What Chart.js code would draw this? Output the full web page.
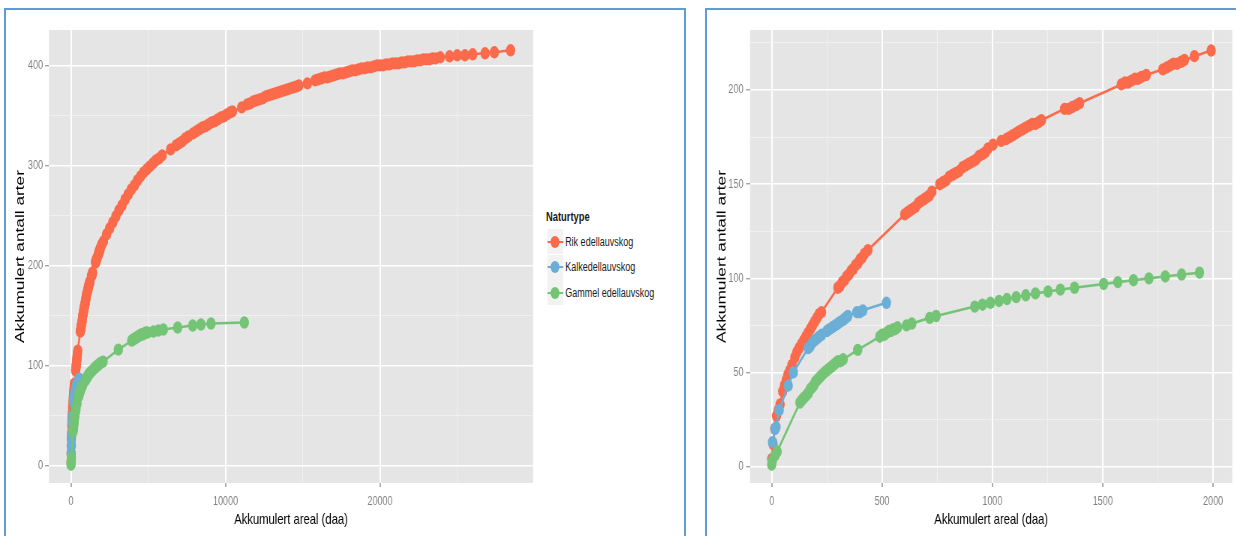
<!DOCTYPE html>
<html>
<head>
<meta charset="utf-8">
<script src="https://cdn.jsdelivr.net/npm/chart.js@4.4.1/dist/chart.umd.min.js"></script>
<style>
  html, body { margin: 0; padding: 0; background: #fff; width: 1236px; height: 536px; overflow: hidden; position: relative; }
  .frame { position: absolute; box-sizing: border-box; border: 2px solid #5f9bd6; }
  /* panels are drawn wide and condensed horizontally */
  .squeeze { position: absolute; top: 0; transform: scaleX(0.75); transform-origin: 0 0; }
  #legend { left: 546px; top: 0; width: 200px; height: 320px; font-family: "Liberation Sans", Arial, sans-serif; color: #1a1a1a; }
  .lg-title { position: absolute; left: 0; top: 209px; font-size: 12.5px; font-weight: bold; line-height: 16px; }
  .lg-key { position: absolute; left: 1.5px; width: 21.3px; height: 25px; background: #f2f2f2; }
  .lg-line { position: absolute; left: 0; width: 21.3px; top: 11.5px; height: 2.2px; }
  .lg-dot { position: absolute; left: 4.65px; top: 6.5px; width: 12px; height: 12px; border-radius: 50%; }
  .lg-label { position: absolute; left: 25.5px; font-size: 12px; line-height: 16px; white-space: nowrap; }
</style>
</head>
<body>
<div class="frame" style="left:4px;top:8px;width:682px;height:540px"></div>
<div class="frame" style="left:705px;top:8px;width:540px;height:540px"></div>
<div class="squeeze" style="left:0"><canvas id="panelAll" width="720" height="536"></canvas></div>
<div class="squeeze" style="left:700px"><canvas id="panelSmall" width="716" height="536"></canvas></div>
<div id="legend" class="squeeze"></div>
<script>
// Accumulated area (daa) and accumulated number of species per nature type
const rikArea = [0,6,14,22,30,38,50,58,66,74,82,92,105,115,125,135,145,155,165,175,185,195,205,215,226,
  300,310,320,330,340,350,360,370,380,390,400,410,420,436,
  603,615,627,640,652,665,677,690,702,714,726,
  762,775,790,805,820,835,850,865,880,895,910,925,940,955,968,980,
  1003,1040,1063,1078,1092,1106,1120,1135,1150,1165,1180,1195,1210,1222,
  1327,1345,1362,1380,1395,
  1584,1600,1615,1630,1645,1660,1675,1697,
  1772,1790,1805,1820,1838,1855,1870,1915,1991,
  2100,2300,2500,2700,2900,3100,3300,3500,3700,3900,4100,4300,4500,4700,4900,5100,5300,5500,5700,5900,
  6450,6800,7000,7200,7400,7600,
  7900,8100,8300,8500,8700,8900,9100,9300,9500,9700,9900,10100,10300,10450,
  11050,
  11400,11600,11800,12000,12200,12400,12600,12800,13000,13200,13400,13600,13800,14000,14200,14400,14600,14750,
  15300,
  15800,16000,16200,16400,16600,16800,17000,17200,17400,17600,17800,18000,18200,18400,18600,18800,19000,19200,19400,19600,
  19800,20000,20200,20400,20600,20800,21000,21200,21400,21600,21800,22000,22200,22400,22600,22800,23000,23200,23400,23600,23900,
  24500,25000,25500,26000,26800,27400,28450];
const rikArter = [4,12,20,27,30,33,40,43,46,49,51,54,58,61,63,65,67,69,71,73,75,77,79,81,82,
  95,96,98,99,101,102,104,105,107,108,110,111,113,115,
  134,135,136,137,138,140,141,142,143,144,146,
  150,151,152,154,155,156,157,159,160,161,162,163,165,166,167,169,
  171,173,174,175,176,177,178,179,180,181,182,182,183,184,
  190,190,191,192,193,
  203,204,204,205,206,206,207,208,
  211,212,213,214,214,215,216,218,221,
  224,231,237,243,249,255,260,266,271,276,280,285,289,293,296,299,302,305,307,310,
  316,320,322,324,327,329,
  332,334,336,338,339,341,343,344,346,348,349,351,353,354,
  358,
  361,362,364,365,366,367,369,370,371,372,373,374,375,376,377,378,379,380,
  382,
  385,386,387,388,388,389,390,391,392,392,393,394,395,395,396,397,397,398,398,399,
  400,400,400,401,401,402,402,402,403,403,404,404,404,405,405,406,406,406,407,407,408,
  409,410,410,411,412,413,415];

const kalkArea = [4,15,20,34,75,98,166,175,185,195,205,215,226,250,262,275,288,300,312,325,335,345,386,400,413,520];
const kalkArter = [13,20,21,30,43,50,63,64,66,67,68,69,70,72,73,74,75,76,77,78,79,80,82,82,83,87];

const gammelArea = [0,3,15,25,128,135,142,150,158,166,174,182,190,198,206,214,222,230,240,250,260,270,280,290,300,312,324,
  390,490,500,510,520,530,540,550,560,570,611,635,716,745,
  920,955,991,1030,1066,1108,1151,1195,1252,1308,1372,1504,1568,1639,1709,1783,1857,1938,
  2080,3064,3930,4030,4130,4230,4330,4430,4530,4630,4730,4830,4950,5330,5650,5976,6904,7875,8414,9061,11219];
const gammelArter = [1,3,6,8,34,35,36,37,38,39,41,42,43,45,46,47,48,49,50,51,52,53,54,55,56,56,57,
  62,69,70,70,71,72,72,73,73,74,75,76,79,80,
  85,86,87,88,89,90,91,92,93,94,95,97,98,99,100,101,102,103,
  104,116,125,126,127,128,129,130,131,131,132,133,133,134,135,136,138,140,141,142,143];

const seriesNames = ['Rik edellauvskog', 'Kalkedellauvskog', 'Gammel edellauvskog'];
const legendTitle = 'Naturtype';
const xTitle = 'Akkumulert areal (daa)';
const yTitle = 'Akkumulert antall arter';

// Grid positions (all) and labelled major ticks for each panel
const allXGrid = [0, 5000, 10000, 15000, 20000, 25000];
const allXTicks = [0, 10000, 20000];
const allYGrid = [0, 50, 100, 150, 200, 250, 300, 350, 400];
const allYTicks = [0, 100, 200, 300, 400];
const smallXGrid = [0, 250, 500, 750, 1000, 1250, 1500, 1750, 2000];
const smallXTicks = [0, 500, 1000, 1500, 2000];
const smallYGrid = [0, 25, 50, 75, 100, 125, 150, 175, 200, 225];
const smallYTicks = [0, 50, 100, 150, 200];
const smallAreaLimit = 2000;

const colors = ['#fb6a4a', '#6baed6', '#74c476'];
const fontFamily = '"Liberation Sans", Arial, sans-serif';

function toPoints(xs, ys, limit) {
  const pts = [];
  for (let i = 0; i < xs.length; i++) {
    if (limit === undefined || xs[i] <= limit) pts.push({ x: xs[i], y: ys[i] });
  }
  return pts;
}

const panelBg = {
  id: 'panelBg',
  beforeDraw(chart) {
    const { ctx, chartArea: a } = chart;
    ctx.save();
    ctx.fillStyle = '#e5e5e5';
    ctx.fillRect(a.left, a.top, a.right - a.left, a.bottom - a.top);
    ctx.restore();
  }
};

function makeDatasets(limit) {
  const sets = [[rikArea, rikArter], [kalkArea, kalkArter], [gammelArea, gammelArter]];
  return sets.map((s, i) => ({
    label: seriesNames[i],
    data: toPoints(s[0], s[1], limit),
    showLine: true,
    borderColor: colors[i],
    backgroundColor: colors[i],
    borderWidth: 2.6,
    pointStyle: 'circle',
    pointRadius: 6.2,
    pointBorderWidth: 0,
    pointHoverRadius: 6.2,
    tension: 0,
    order: 2 - i
  }));
}

function isMajor(list, v) {
  return list.some(t => Math.abs(t - v) < 1e-6);
}

function axis(o) {
  const horizontal = o.horizontal;
  return {
    type: 'linear',
    min: o.min, max: o.max,
    border: { display: false },
    afterBuildTicks: s => { s.ticks = o.grid.map(v => ({ value: v })); },
    grid: {
      color: c => (c.tick && isMajor(o.majors, c.tick.value)) ? '#ffffff' : '#f2f2f2',
      lineWidth: c => (c.tick && isMajor(o.majors, c.tick.value)) ? (horizontal ? 2.0 : 1.6) : (horizontal ? 1.0 : 0.8),
      tickColor: c => (c.tick && isMajor(o.majors, c.tick.value)) ? '#7f7f7f' : 'rgba(0,0,0,0)',
      tickLength: horizontal ? 4 : 5.33,
      tickWidth: horizontal ? 1.3 : 1
    },
    ticks: {
      autoSkip: false,
      maxRotation: 0,
      color: '#7f7f7f',
      font: { family: fontFamily, size: 12 },
      padding: o.tickPad,
      callback: v => isMajor(o.majors, v) ? String(v) : ''
    },
    title: {
      display: true,
      text: horizontal ? xTitle : yTitle,
      color: '#000',
      font: { family: fontFamily, size: horizontal ? 15 : 17.3 },
      padding: o.titlePad
    },
    afterFit: s => { if (horizontal) s.height = o.fitSize; else s.width = o.fitSize; }
  };
}

function makeChart(id, limit, cfg) {
  return new Chart(document.getElementById(id), {
    type: 'scatter',
    data: { datasets: makeDatasets(limit) },
    options: {
      responsive: false,
      animation: false,
      events: [],
      layout: { padding: { left: 0, top: 30, right: cfg.padRight, bottom: 0 } },
      plugins: { legend: { display: false }, tooltip: { enabled: false } },
      scales: {
        x: axis({ min: cfg.xMin, max: cfg.xMax, grid: cfg.xGrid, majors: cfg.xMajors, horizontal: true,
                  fitSize: 53, tickPad: 7, titlePad: { top: 0, bottom: 7.5 } }),
        y: axis({ min: cfg.yMin, max: cfg.yMax, grid: cfg.yGrid, majors: cfg.yMajors, horizontal: false,
                  fitSize: cfg.yWidth, tickPad: cfg.yTickPad, titlePad: { top: cfg.yTitlePad, bottom: 0 } })
      }
    },
    plugins: [panelBg]
  });
}

makeChart('panelAll', undefined, {
  padRight: 9.33, yWidth: 65.33, yTitlePad: 17.2, yTickPad: 2.7,
  xMin: -1424, xMax: 29903, xGrid: allXGrid, xMajors: allXTicks,
  yMin: -17.3, yMax: 435.3, yGrid: allYGrid, yMajors: allYTicks
});

makeChart('panelSmall', smallAreaLimit, {
  padRight: 5.33, yWidth: 66.67, yTitlePad: 18.8, yTickPad: 3.5,
  xMin: -98, xMax: 2087, xGrid: smallXGrid, xMajors: smallXTicks,
  yMin: -8.7, yMax: 231.9, yGrid: smallYGrid, yMajors: smallYTicks
});

// Legend for nature types
(function buildLegend() {
  const root = document.getElementById('legend');
  const title = document.createElement('div');
  title.className = 'lg-title';
  title.textContent = legendTitle;
  root.appendChild(title);
  const rowCenters = [241.5, 267, 292.5];
  seriesNames.forEach((name, i) => {
    const key = document.createElement('div');
    key.className = 'lg-key';
    key.style.top = (rowCenters[i] - 12.5) + 'px';
    const line = document.createElement('div');
    line.className = 'lg-line';
    line.style.background = colors[i];
    const dot = document.createElement('div');
    dot.className = 'lg-dot';
    dot.style.background = colors[i];
    key.appendChild(line);
    key.appendChild(dot);
    root.appendChild(key);
    const label = document.createElement('div');
    label.className = 'lg-label';
    label.style.top = (rowCenters[i] - 8) + 'px';
    label.textContent = name;
    root.appendChild(label);
  });
})();
</script>
</body>
</html>
